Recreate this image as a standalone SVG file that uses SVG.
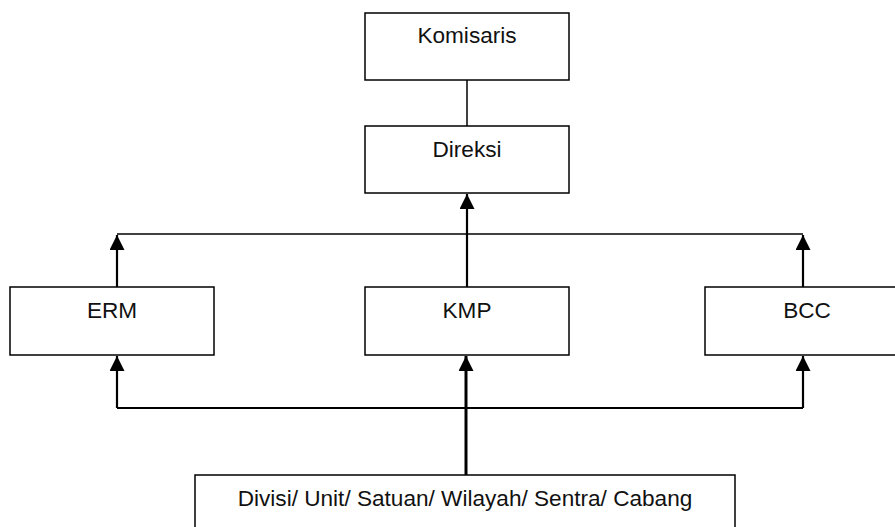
<svg xmlns="http://www.w3.org/2000/svg" width="895" height="527" viewBox="0 0 895 527">
<defs>
<style>
.box{fill:#fff;stroke:#000;stroke-width:1.5}
.lbl{font-family:"Liberation Sans",Arial,sans-serif;font-size:22.6px;fill:#111;text-anchor:middle}
.ln{stroke:#000;stroke-width:1.5;fill:none}
.ar{stroke:#000;stroke-width:2.2;fill:none;marker-end:url(#ah)}
</style>
<marker id="ah" viewBox="0 0 10 10" refX="10" refY="5" markerUnits="userSpaceOnUse" markerWidth="15" markerHeight="15" orient="auto">
<path d="M0,0 L10,5 L0,10 Z" fill="#000"/>
</marker>
</defs>
<rect width="895" height="527" fill="#fff"/>
<g id="connectors">
<line class="ln" x1="467" y1="80" x2="467" y2="126"/>
<line class="ln" x1="117" y1="234" x2="803" y2="234"/>
<line class="ar" x1="467" y1="287" x2="467" y2="194"/>
<line class="ar" x1="117" y1="287" x2="117" y2="235"/>
<line class="ar" x1="803" y1="287" x2="803" y2="235"/>
<polyline class="ln" points="117,408 803,408" style="stroke-width:2"/>
<line class="ar" x1="117" y1="408" x2="117" y2="356"/>
<line class="ar" x1="803" y1="408" x2="803" y2="356"/>
<line class="ar" x1="466" y1="475" x2="466" y2="356" style="stroke-width:3"/>
</g>
<g id="komisaris"><rect class="box" x="365" y="13" width="204" height="67"/><text class="lbl" x="467" y="43">Komisaris</text></g>
<g id="direksi"><rect class="box" x="365" y="126" width="204" height="67"/><text class="lbl" x="467" y="157">Direksi</text></g>
<g id="erm"><rect class="box" x="10" y="287" width="204" height="68"/><text class="lbl" x="112" y="318">ERM</text></g>
<g id="kmp"><rect class="box" x="365" y="287" width="204" height="68"/><text class="lbl" x="467" y="318">KMP</text></g>
<g id="bcc"><rect class="box" x="705" y="287" width="204" height="68"/><text class="lbl" x="807" y="318">BCC</text></g>
<g id="divisi"><rect class="box" x="195" y="475" width="540" height="60"/><text class="lbl" x="465" y="506">Divisi/ Unit/ Satuan/ Wilayah/ Sentra/ Cabang</text></g>
</svg>
